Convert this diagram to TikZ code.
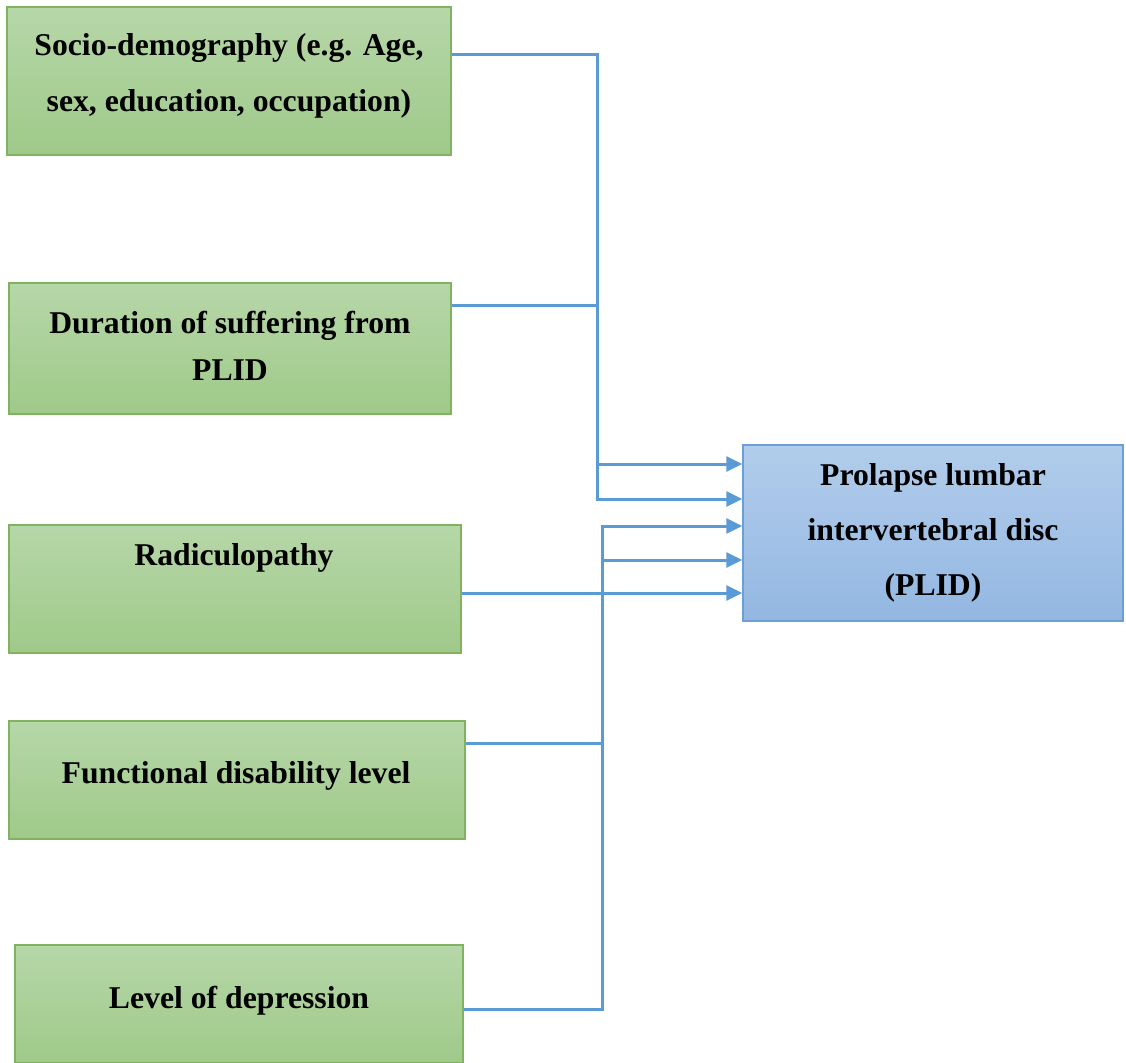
\documentclass[tikz,border=0pt]{standalone}
\usepackage{fontspec}
\setmainfont{Liberation Serif}
\usetikzlibrary{arrows.meta}
\definecolor{lineblue}{HTML}{5B9BD5}
\definecolor{gtop}{HTML}{B6D7A8}
\definecolor{gbot}{HTML}{9FC98A}
\definecolor{gborder}{HTML}{7FB35F}
\definecolor{btop}{HTML}{B2CDEB}
\definecolor{bbot}{HTML}{93B7E2}
\definecolor{bborder}{HTML}{6A9FD8}
\begin{document}
\begin{tikzpicture}[x=1pt,y=-1pt,
  gbox/.style={draw=gborder, line width=1.5pt, top color=gtop, bottom color=gbot, inner sep=0pt},
  bbox/.style={draw=bborder, line width=1.5pt, top color=btop, bottom color=bbot, inner sep=0pt},
  txt/.style={anchor=base, inner sep=0pt, font=\fontsize{31.7}{38}\selectfont\bfseries},
  conn/.style={draw=lineblue, line width=3pt, line join=miter},
  arr/.style={conn, -{Triangle[length=16pt,width=15pt]}}]
\useasboundingbox (0,0) rectangle (1126,1062);
% boxes
\node[gbox, minimum width=444pt, minimum height=148pt] (soc) at (229,81) {};
\node[gbox, minimum width=442pt, minimum height=131pt] (dur) at (230,348.5) {};
\node[gbox, minimum width=452pt, minimum height=128pt] (rad) at (235,589) {};
\node[gbox, minimum width=456pt, minimum height=118pt] (fun) at (237,780) {};
\node[gbox, minimum width=448pt, minimum height=118pt] (dep) at (239,1004) {};
\node[bbox, minimum width=380pt, minimum height=176pt] (plid) at (933,533) {};
% texts
\node[txt] (soc1) at (229,56) {Socio-demography (e.g. Age,};
\node[txt] (soc2) at (229,112) {sex, education, occupation)};
\node[txt] (dur1) at (230,333) {Duration of suffering from};
\node[txt] (dur2) at (230,380) {PLID};
\node[txt] (rad1) at (234,565) {Radiculopathy};
\node[txt] (fun1) at (236,783) {Functional disability level};
\node[txt] (dep1) at (239,1008) {Level of depression};
\node[txt] (pl1) at (933,485) {Prolapse lumbar};
\node[txt] (pl2) at (933,540) {intervertebral disc};
\node[txt] (pl3) at (933,595) {(PLID)};
% junction coordinates
\coordinate (tA) at (597,55);
\coordinate (tC) at (597,305);
\coordinate (tD) at (597,464);
\coordinate (tB) at (597,499);
\coordinate (bA) at (602,526);
\coordinate (bC) at (602,560);
\coordinate (bR) at (602,593);
\coordinate (bD) at (602,743);
\coordinate (bB) at (602,1009);
% connectors
\draw[arr] (soc.east |- tA) -- (tA) -- (tB) -- (plid.west |- tB);
\draw[conn] (dur.east |- tC) -- (tC);
\draw[arr] (tD) -- (plid.west |- tD);
\draw[arr] (dep.east |- bB) -- (bB) -- (bA) -- (plid.west |- bA);
\draw[arr] (bC) -- (plid.west |- bC);
\draw[conn] (fun.east |- bD) -- (bD);
\draw[arr] (rad.east |- bR) -- (plid.west |- bR);
\end{tikzpicture}
\end{document}
